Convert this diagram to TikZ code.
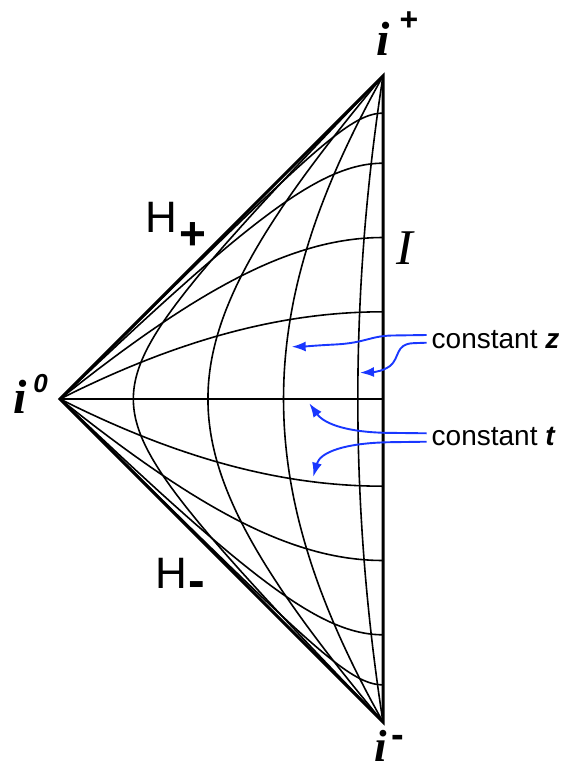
\documentclass[tikz,border=0pt]{standalone}
\usepackage{fontspec}
\setmainfont{Liberation Serif}
\newfontfamily\sansf{Liberation Sans}
\usetikzlibrary{arrows.meta}
\definecolor{arrblue}{RGB}{25,55,255}
\begin{document}
\begin{tikzpicture}[x=1pt,y=-1pt,
  declare function={pp(\a,\b)=(\a-\b)/(1-\a*\b); qq(\a,\b)=(\a+\b)/(1+\a*\b);},
  gridline/.style={line width=1.6pt, line join=round},
  edgeline/.style={line width=3pt, line join=miter},
  lbl/.style={inner sep=0pt},
  note/.style={arrblue, line width=1.9pt, -{Latex[length=14pt,width=10pt]}}
]
\useasboundingbox (0,0) rectangle (568,771);

% vertices
\coordinate (i0) at (60,399);
\coordinate (ip) at (383,76);
\coordinate (im) at (383,722);
\coordinate (mid) at (383,399);

% constant t curves
\foreach \a in {0.27,0.5,0.73,0.885,-0.27,-0.5,-0.73,-0.885}{
  \draw[gridline] plot[variable=\s, domain=0:1, samples=220]
   ({383+161.5*(pp(\a,\s*(2-\s))-qq(\a,\s*(2-\s)))},
    {399-161.5*(pp(\a,\s*(2-\s))+qq(\a,\s*(2-\s)))});
}
\draw[gridline] (i0) -- (mid);

% constant z curves
\foreach \c in {0.773,0.542,0.308,0.078}{
  \draw[gridline] plot[variable=\s, domain=-90:90, samples=220]
   ({383+161.5*(pp(sin(\s),\c)-qq(sin(\s),\c))},
    {399-161.5*(pp(sin(\s),\c)+qq(sin(\s),\c))});
}

% boundary
\draw[edgeline] (ip) -- (i0) -- (im) -- cycle;

% labels
\node[lbl, font=\fontsize{48}{48}\selectfont\bfseries\itshape] (iplus) at (383.5,38.5) {i};
\node[lbl, font=\sansf\fontsize{32}{32}\selectfont\bfseries] (iplussup) at (409,21) {+};
\node[lbl, font=\fontsize{48}{48}\selectfont\bfseries\itshape] (izero) at (20,396.7) {i};
\node[lbl, font=\sansf\fontsize{26}{26}\selectfont\bfseries\itshape] (izerosup) at (40.5,384) {0};
\node[lbl, anchor=base, font=\fontsize{45}{45}\selectfont\bfseries\itshape] (iminus) at (381,761) {i};
\node[lbl, font=\sansf\fontsize{38}{38}\selectfont\bfseries] (iminussup) at (398,741) {-};
\node[lbl, font=\sansf\fontsize{44}{44}\selectfont] (Hp) at (161.7,217.5) {H};
\node[lbl, font=\sansf\fontsize{46}{46}\selectfont\bfseries] (Hpsub) at (193.3,236) {+};
\node[lbl, font=\sansf\fontsize{44}{44}\selectfont] (Hm) at (171.7,573.3) {H};
\node[lbl, font=\sansf\fontsize{50}{50}\selectfont\bfseries] (Hmsub) at (197.2,589.2) {-};
\node[lbl, font=\fontsize{50}{50}\selectfont\itshape] (scri) at (405,248.3) {I};

\node[lbl, anchor=base west, font=\sansf\fontsize{28}{30}\selectfont] (cz) at (431.5,348.3) {constant {\bfseries\itshape z}};
\node[lbl, anchor=base west, font=\sansf\fontsize{28}{30}\selectfont] (ct) at (431.5,445.5) {constant {\bfseries\itshape t}};

% arrows
\coordinate (za) at (426.7,335);
\coordinate (zb) at (426.7,342.7);
\coordinate (ta) at (426.7,433.3);
\coordinate (tb) at (426.7,441.7);
\coordinate (zatip) at (291.7,346.7);
\coordinate (zbtip) at (360,372.7);
\coordinate (tatip) at (309.3,403.3);
\coordinate (tbtip) at (313.3,476.7);

\draw[note] (za) -- (392,335.5) .. controls (370,336) and (365,343) .. (335,344.5) .. controls (315,345.5) and (305,346.5) .. (zatip);
\draw[note] (zb) -- (413,343.2) .. controls (395,344) and (400,358) .. (390,366) .. controls (383,371) and (375,372) .. (zbtip);
\draw[note] (ta) -- (385,432.8) .. controls (350,432) and (325,425) .. (tatip);
\draw[note] (tb) -- (390,442.2) .. controls (345,443) and (320,452) .. (tbtip);
\end{tikzpicture}
\end{document}
